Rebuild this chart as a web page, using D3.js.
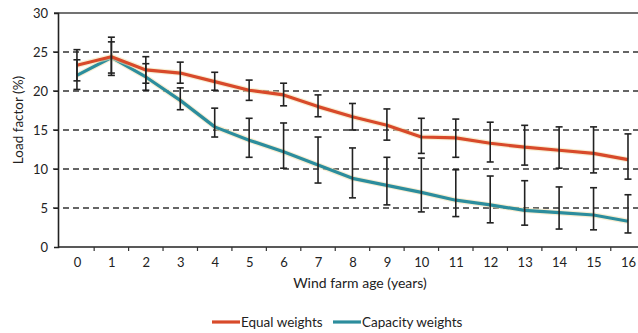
<!DOCTYPE html>
<html>
<head>
<meta charset="utf-8">
<script src="https://cdn.jsdelivr.net/npm/d3@7"></script>
<style>
  body { margin: 0; background: #fff; }
  svg text { font-family: Lato, "Open Sans", sans-serif; fill: #222; }
</style>
</head>
<body>
<svg id="chart" width="638" height="333"></svg>
<script>
// ---- data ----
const ages = [0, 1, 2, 3, 4, 5, 6, 7, 8, 9, 10, 11, 12, 13, 14, 15, 16];
const equalMean = [23.3, 24.4, 22.7, 22.3, 21.2, 20.1, 19.5, 18.0, 16.7, 15.6, 14.1, 14.0, 13.3, 12.8, 12.4, 12.0, 11.2];
const equalLow  = [21.3, 22.3, 21.0, 21.0, 20.1, 18.8, 18.1, 16.7, 15.0, 13.7, 12.0, 11.5, 10.9, 10.5, 10.1, 9.5, 8.7];
const equalHigh = [25.3, 26.3, 24.4, 23.7, 22.4, 21.4, 21.0, 19.5, 18.4, 17.7, 16.5, 16.4, 16.0, 15.6, 15.4, 15.4, 14.5];
const capMean = [22.0, 24.3, 21.8, 18.8, 15.4, 13.7, 12.2, 10.5, 8.8, 7.9, 7.0, 6.0, 5.4, 4.7, 4.4, 4.1, 3.3];
const capLow  = [20.2, 22.0, 20.1, 17.6, 14.1, 11.5, 10.1, 8.2, 6.3, 5.4, 4.5, 3.9, 3.1, 2.8, 2.3, 2.2, 1.8];
const capHigh = [24.0, 26.9, 23.5, 20.4, 17.8, 16.5, 15.9, 14.1, 12.7, 11.5, 11.4, 9.9, 9.1, 8.5, 7.7, 7.6, 6.7];
const yTicks = [0, 5, 10, 15, 20, 25, 30];

const ORANGE = '#d84a2a';
const TEAL = '#2c8d9d';

const svg = d3.select('#chart');
const plotL = 58, plotR = 638, plotT = 13, plotB = 247;

const x = d3.scaleLinear().domain([-0.55, 16.3]).range([plotL, 628 + 0.3 * 34.4]);
const y = d3.scaleLinear().domain([0, 30]).range([plotB, plotT]);

// gridlines
svg.append('g')
  .selectAll('line')
  .data(yTicks.filter(d => d > 0 && d < 30))
  .join('line')
  .attr('x1', plotL - 5).attr('x2', plotR)
  .attr('y1', d => y(d)).attr('y2', d => y(d))
  .attr('stroke', '#333').attr('stroke-width', 1.6)
  .attr('stroke-dasharray', '6,4');

// top border
svg.append('line')
  .attr('x1', plotL - 4).attr('x2', plotR)
  .attr('y1', y(30)).attr('y2', y(30))
  .attr('stroke', '#444').attr('stroke-width', 1.5);

// y axis
const yAxis = svg.append('g')
  .attr('transform', `translate(${plotL},0)`)
  .call(d3.axisLeft(y).tickValues(yTicks).tickSize(4).tickPadding(6));
yAxis.select('.domain').attr('stroke', '#222').attr('stroke-width', 1.6);
yAxis.selectAll('.tick line').attr('stroke', '#222');
yAxis.selectAll('text').attr('font-size', 13).attr('fill', '#222');

// x axis
const xAxis = svg.append('g')
  .attr('transform', `translate(0,${plotB})`)
  .call(d3.axisBottom(x).tickValues(ages).tickSize(0).tickPadding(11).tickFormat(d3.format('d')));
xAxis.select('.domain').remove();
xAxis.selectAll('text').attr('font-size', 13).attr('fill', '#222');
svg.append('line')
  .attr('x1', plotL).attr('x2', plotR)
  .attr('y1', plotB).attr('y2', plotB)
  .attr('stroke', '#222').attr('stroke-width', 1.6);
svg.append('g')
  .selectAll('line')
  .data(ages.map(d => d + 0.5))
  .join('line')
  .attr('x1', d => x(d)).attr('x2', d => x(d))
  .attr('y1', plotB).attr('y2', plotB + 4)
  .attr('stroke', '#333').attr('stroke-width', 1.2);

// axis titles
svg.append('text')
  .attr('transform', `translate(23,120) rotate(-90)`)
  .attr('text-anchor', 'middle')
  .attr('font-size', 13.5)
  .text('Load factor (%)');
svg.append('text')
  .attr('x', 360).attr('y', 288)
  .attr('text-anchor', 'middle')
  .attr('font-size', 14)
  .text('Wind farm age (years)');

// series lines
const line = d3.line().x((d, i) => x(ages[i])).y(d => y(d));
function drawSeries(vals, color) {
  svg.append('path').datum(vals)
    .attr('d', line).attr('fill', 'none')
    .attr('stroke', '#f3e3b5').attr('stroke-width', 5.5)
    .attr('stroke-linejoin', 'round').attr('opacity', 0.6);
  svg.append('path').datum(vals)
    .attr('d', line).attr('fill', 'none')
    .attr('stroke', color).attr('stroke-width', 3.2)
    .attr('stroke-linejoin', 'round');
}
drawSeries(capMean, TEAL);
drawSeries(equalMean, ORANGE);

// error bars
function drawErrors(low, high) {
  const g = svg.append('g').attr('stroke', '#222').attr('stroke-width', 1.6);
  ages.forEach((a, i) => {
    const cx = x(a);
    g.append('line').attr('x1', cx).attr('x2', cx).attr('y1', y(low[i])).attr('y2', y(high[i]));
    g.append('line').attr('x1', cx - 3.5).attr('x2', cx + 3.5).attr('y1', y(low[i])).attr('y2', y(low[i]));
    g.append('line').attr('x1', cx - 3.5).attr('x2', cx + 3.5).attr('y1', y(high[i])).attr('y2', y(high[i]));
  });
}
drawErrors(capLow, capHigh);
drawErrors(equalLow, equalHigh);

// legend
const legend = [
  { name: 'Equal weights', color: ORANGE, x: 212 },
  { name: 'Capacity weights', color: TEAL, x: 333 }
];
const lg = svg.append('g').selectAll('g').data(legend).join('g')
  .attr('transform', d => `translate(${d.x},322)`);
lg.append('line').attr('x1', 0).attr('x2', 28).attr('y1', 0).attr('y2', 0)
  .attr('stroke', d => d.color).attr('stroke-width', 3.2);
lg.append('text').attr('x', 29).attr('y', 5).attr('font-size', 13.5).text(d => d.name);
</script>
</body>
</html>
